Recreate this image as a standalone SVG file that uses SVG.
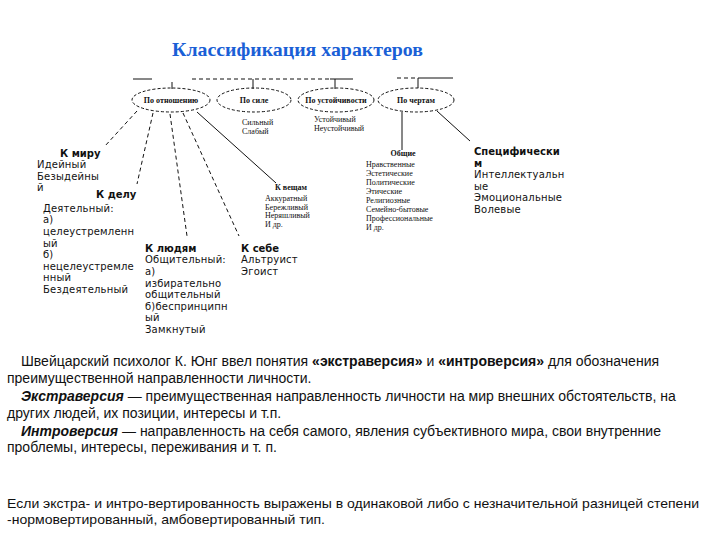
<svg xmlns="http://www.w3.org/2000/svg" width="720" height="540" viewBox="0 0 720 540">
<style>
.title{font-family:"Liberation Serif",serif;font-weight:bold;font-size:19px;fill:#1a5fd6}
.sm{font-family:"Liberation Serif",serif;font-size:8px;fill:#111}
.smb{font-family:"Liberation Serif",serif;font-size:8px;font-weight:bold;fill:#111}
.lb{font-family:"DejaVu Sans",sans-serif;font-size:10px;fill:#111;letter-spacing:0.2px}
.lbb{font-family:"DejaVu Sans",sans-serif;font-size:10px;font-weight:bold;fill:#111}
.p{font-family:"Liberation Sans",Arial,sans-serif;font-size:14px;fill:#111}
.pn{font-family:"Liberation Sans Narrow","Liberation Sans",sans-serif;font-size:13.5px;fill:#111}
.ell{fill:none;stroke:#111;stroke-width:1;stroke-dasharray:3,2}
.ln{fill:none;stroke:#111;stroke-width:1}
.dl{fill:none;stroke:#111;stroke-width:1;stroke-dasharray:4,3}
</style>
<rect width="720" height="540" fill="#fff"/>
<text class="title" x="172" y="56" textLength="251" lengthAdjust="spacingAndGlyphs">Классификация характеров</text>
<g id="connectors">
<line class="ln" x1="133" y1="79" x2="152" y2="79"/>
<line class="ln" x1="172" y1="82" x2="172" y2="89"/>
<line class="dl" x1="192" y1="79" x2="330" y2="79"/>
<line class="ln" x1="330" y1="79" x2="353" y2="79"/>
<line class="ln" x1="253" y1="79" x2="253" y2="89"/>
<line class="ln" x1="335" y1="79" x2="335" y2="89"/>
<line class="dl" x1="397" y1="78" x2="420" y2="78"/>
<line class="ln" x1="420" y1="78" x2="453" y2="78"/>
<line class="ln" x1="418" y1="78" x2="418" y2="88"/>
<line class="dl" x1="137" y1="111" x2="105" y2="146"/>
<line class="dl" x1="153" y1="113" x2="137" y2="184"/>
<line class="dl" x1="170" y1="114" x2="187" y2="236"/>
<line class="dl" x1="183" y1="113" x2="239" y2="236"/>
<line class="ln" x1="197" y1="112" x2="276" y2="183"/>
<line class="ln" x1="402" y1="112" x2="402" y2="150"/>
<line class="ln" x1="437" y1="111" x2="470" y2="141"/>
</g>
<g id="n-otnosh"><ellipse class="ell" cx="171" cy="100" rx="39" ry="12"/><text class="smb" x="171" y="103" text-anchor="middle">По отношению</text></g>
<g id="n-sila"><ellipse class="ell" cx="254" cy="100" rx="37" ry="12"/><text class="smb" x="254" y="103" text-anchor="middle">По силе</text>
<text class="sm" x="242" y="125">Сильный</text><text class="sm" x="242" y="134">Слабый</text></g>
<g id="n-ustoich"><ellipse class="ell" cx="336" cy="100" rx="38" ry="12"/><text class="smb" x="336" y="103" text-anchor="middle">По устойчивости</text>
<text class="sm" x="314" y="122">Устойчивый</text><text class="sm" x="314" y="131">Неустойчивый</text></g>
<g id="n-cherty"><ellipse class="ell" cx="416" cy="100" rx="38" ry="12"/><text class="smb" x="416" y="103" text-anchor="middle">По чертам</text></g>
<g id="n-miru"><text class="lbb" x="60" y="157">К миру</text>
<text class="lb" x="37" y="168">Идейный</text><text class="lb" x="37" y="180">Безыдейны</text><text class="lb" x="37" y="191">й</text></g>
<g id="n-delu"><text class="lbb" x="96" y="198">К делу</text>
<text class="lb" x="43" y="212">Деятельный:</text><text class="lb" x="43" y="223">а)</text><text class="lb" x="43" y="235">целеустремленн</text><text class="lb" x="43" y="247">ый</text><text class="lb" x="43" y="258">б)</text><text class="lb" x="43" y="270">нецелеустремле</text><text class="lb" x="43" y="281">нный</text><text class="lb" x="43" y="293">Бездеятельный</text></g>
<g id="n-lyudyam"><text class="lbb" x="145" y="252">К людям</text>
<text class="lb" x="145" y="263">Общительный:</text><text class="lb" x="145" y="275">а)</text><text class="lb" x="145" y="287">избирательно</text><text class="lb" x="145" y="298">общительный</text><text class="lb" x="145" y="310">б)беспринципн</text><text class="lb" x="145" y="321">ый</text><text class="lb" x="145" y="333">Замкнутый</text></g>
<g id="n-sebe"><text class="lbb" x="241" y="252">К себе</text>
<text class="lb" x="241" y="263">Альтруист</text><text class="lb" x="241" y="275">Эгоист</text></g>
<g id="n-veshcham"><text class="smb" x="291" y="190" text-anchor="middle">К вещам</text>
<text class="sm" x="265" y="201">Аккуратный</text><text class="sm" x="265" y="209.5">Бережливый</text><text class="sm" x="265" y="218">Неряшливый</text><text class="sm" x="265" y="227">И др.</text></g>
<g id="n-obshchie"><text class="smb" x="403" y="156" text-anchor="middle">Общие</text>
<text class="sm" x="366" y="167">Нравственные</text><text class="sm" x="366" y="176">Эстетические</text><text class="sm" x="366" y="185">Политические</text><text class="sm" x="366" y="194">Этические</text><text class="sm" x="366" y="203">Религиозные</text><text class="sm" x="366" y="212">Семейно-бытовые</text><text class="sm" x="366" y="221">Профессиональные</text><text class="sm" x="366" y="230">И др.</text></g>
<g id="n-spec"><text class="lbb" x="474" y="155">Специфически</text><text class="lbb" x="474" y="167">м</text>
<text class="lb" x="474" y="178">Интеллектуальн</text><text class="lb" x="474" y="190">ые</text><text class="lb" x="474" y="201">Эмоциональные</text><text class="lb" x="474" y="213">Волевые</text></g>
<g id="body">
<text class="p" x="21" y="366">Швейцарский психолог К. Юнг ввел понятия <tspan font-weight="bold">«экстраверсия»</tspan> и <tspan font-weight="bold">«интроверсия»</tspan> для обозначения</text>
<text class="p" x="7" y="383">преимущественной направленности личности.</text>
<text class="p" x="21" y="401"><tspan font-weight="bold" font-style="italic">Экстраверсия</tspan> — преимущественная направленность личности на мир внешних обстоятельств, на</text>
<text class="p" x="7" y="418">других людей, их позиции, интересы и т.п.</text>
<text class="p" x="21" y="436"><tspan font-weight="bold" font-style="italic">Интроверсия</tspan> — направленность на себя самого, явления субъективного мира, свои внутренние</text>
<text class="p" x="7" y="452">проблемы, интересы, переживания и т. п.</text>
<text class="pn" x="7" y="508" textLength="692" lengthAdjust="spacingAndGlyphs">Если экстра- и интро-вертированность выражены в одинаковой либо с незначительной разницей степени</text>
<text class="pn" x="7" y="524" textLength="318" lengthAdjust="spacingAndGlyphs">-нормовертированный, амбовертированный тип.</text>
</g>
</svg>
